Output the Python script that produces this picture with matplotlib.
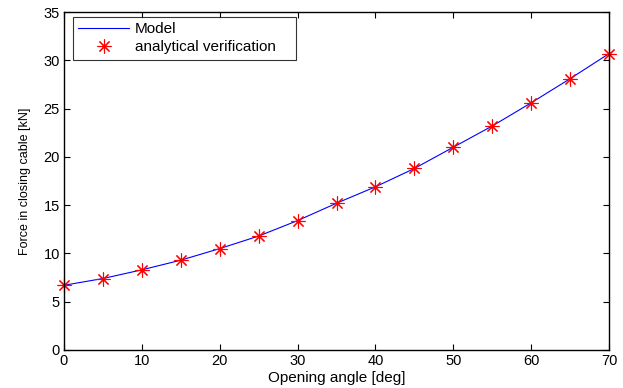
import matplotlib
matplotlib.use("Agg")
import matplotlib.pyplot as plt

plt.rcParams['font.family'] = ['Liberation Sans', 'DejaVu Sans']

# Data
model_x = [0, 0, 0, 5, 10, 15, 20, 25, 30, 35, 40, 45, 50, 55, 60, 65, 70]
model_y = [5.6, 9.3, 6.7, 7.4, 8.3, 9.3, 10.5, 11.8, 13.4, 15.2, 16.9, 18.8, 21.0, 23.2, 25.6, 28.1, 30.7]
verif_x = [0, 5, 10, 15, 20, 25, 30, 35, 40, 45, 50, 55, 60, 65, 70]
verif_y = [6.7, 7.4, 8.3, 9.3, 10.5, 11.8, 13.4, 15.2, 16.9, 18.8, 21.0, 23.2, 25.6, 28.1, 30.7]
xticks = [0, 10, 20, 30, 40, 50, 60, 70]
yticks = [0, 5, 10, 15, 20, 25, 30, 35]

fig = plt.figure(figsize=(6.23, 3.88), dpi=100)
ax = fig.add_axes([0.1027, 0.098, 0.875, 0.871])

ax.plot(model_x, model_y, color='#0000ff', lw=0.8, label='Model')
ax.plot(verif_x, verif_y, linestyle='none', marker=(8, 2, 0), markersize=10,
        markeredgewidth=0.8, color='#ff0000', label='analytical verification', clip_on=False)

ax.set_xlim(0, 70)
ax.set_ylim(0, 35)
ax.set_xticks(xticks)
ax.set_yticks(yticks)
ax.tick_params(direction='in', top=True, right=True, length=4, width=0.8, labelsize=10.5, pad=3)
for s in ax.spines.values():
    s.set_linewidth(1.0)

ax.set_xlabel('Opening angle [deg]', fontsize=11, labelpad=2)
ax.set_ylabel('Force in closing cable [kN]', fontsize=9, labelpad=9)

leg = ax.legend(loc='upper left', fontsize=11, frameon=True, fancybox=False,
                edgecolor='black', borderpad=0.35, handlelength=3.3, handletextpad=0.4,
                labelspacing=0.25, mode='expand',
                bbox_to_anchor=(0.0165, 0.0, 0.409, 0.985), borderaxespad=0)
leg.get_frame().set_linewidth(0.8)

fig.savefig('out.png', dpi=100)
